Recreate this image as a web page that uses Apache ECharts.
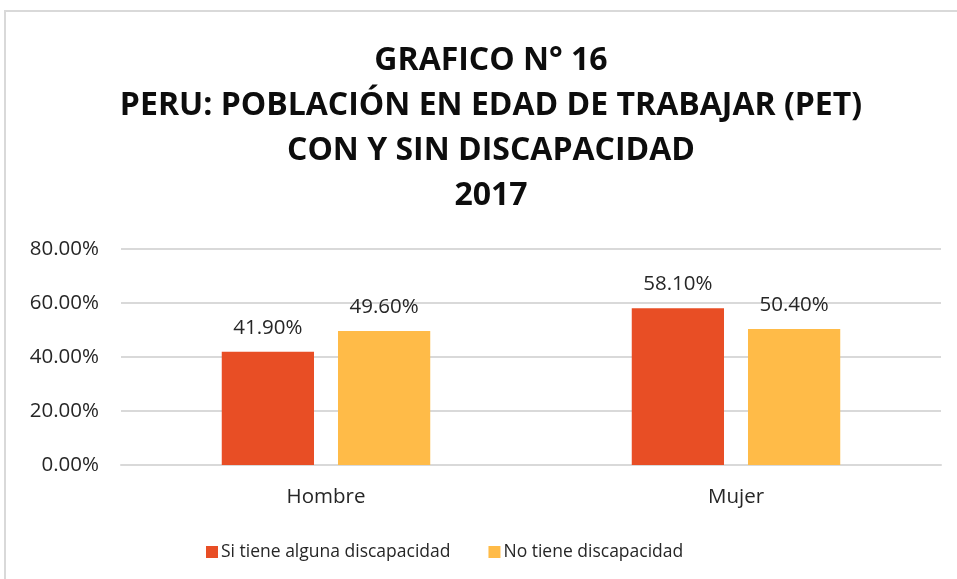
<!DOCTYPE html>
<html>
<head>
<meta charset="utf-8">
<script src="https://cdn.jsdelivr.net/npm/echarts@6/dist/echarts.min.js"></script>
<style>
  html, body { margin: 0; padding: 0; background: #fff; }
  #chart { width: 957px; height: 579px; }
</style>
</head>
<body>
<div id="chart"></div>
<script>
var categories = ['Hombre', 'Mujer'];
var seriesNames = ['Si tiene alguna discapacidad', 'No tiene discapacidad'];
var conDiscapacidad = [41.9, 58.1];
var sinDiscapacidad = [49.6, 50.4];
var yTicks = [0, 20, 40, 60, 80];

var bodyFont = '"Open Sans", "Liberation Sans", sans-serif';
var titleFont = '"Open Sans", "Liberation Sans", sans-serif';

var myChart = echarts.init(document.getElementById('chart'), null, { renderer: 'canvas' });

function pct(v) { return v.toFixed(2) + '%'; }

option = {
  animation: false,
  graphic: [{      // frame around the chart
    type: 'rect',
    shape: { x: 5, y: 11, width: 1000, height: 1000 },
    style: { fill: 'none', stroke: '#d9d9d9', lineWidth: 2 },
    silent: true
  }],
  title: {
    text: 'GRAFICO N° 16\nPERU: POBLACIÓN EN EDAD DE TRABAJAR (PET)\nCON Y SIN DISCAPACIDAD\n2017',
    left: 486,
    textAlign: 'center',
    top: 33,
    textStyle: {
      fontFamily: titleFont,
      fontSize: 32,
      fontWeight: 'bold',
      lineHeight: 45,
      color: '#0d0d0d'
    }
  },
  legend: {
    data: seriesNames,
    left: 206,
    top: 543,
    padding: 0,
    itemWidth: 12,
    itemHeight: 12,
    itemGap: 38,
    icon: 'rect',
    textStyle: { fontFamily: bodyFont, fontSize: 17.5, color: '#262626', padding: [0, 0, 0, -2] }
  },
  grid: {
    left: 121,
    right: 16,
    top: 249,
    bottom: 114,
    containLabel: false
  },
  xAxis: {
    type: 'category',
    data: categories,
    axisTick: { show: false },
    axisLine: { lineStyle: { color: '#d9d9d9', width: 2 } },
    axisLabel: { fontFamily: bodyFont, fontSize: 20.5, color: '#262626', margin: 22 }
  },
  yAxis: {
    type: 'value',
    min: yTicks[0],
    max: yTicks[yTicks.length - 1],
    interval: 20,
    axisLine: { show: false },
    axisTick: { show: false },
    splitLine: { lineStyle: { color: '#d9d9d9', width: 2 } },
    axisLabel: { fontFamily: bodyFont, fontSize: 20.5, color: '#262626', margin: 22, formatter: pct }
  },
  series: [
    {
      name: seriesNames[0],
      type: 'bar',
      data: conDiscapacidad,
      barWidth: '22.5%',
      barGap: '26%',
      itemStyle: { color: '#e84e25' },
      label: { show: true, position: 'top', distance: 13, formatter: function (p) { return pct(p.value); },
               fontFamily: bodyFont, fontSize: 20.5, color: '#262626' }
    },
    {
      name: seriesNames[1],
      type: 'bar',
      data: sinDiscapacidad,
      barWidth: '22.5%',
      itemStyle: { color: '#ffbb48' },
      label: { show: true, position: 'top', distance: 13, formatter: function (p) { return pct(p.value); },
               fontFamily: bodyFont, fontSize: 20.5, color: '#262626' }
    }
  ]
};
myChart.setOption(option);
</script>
</body>
</html>
